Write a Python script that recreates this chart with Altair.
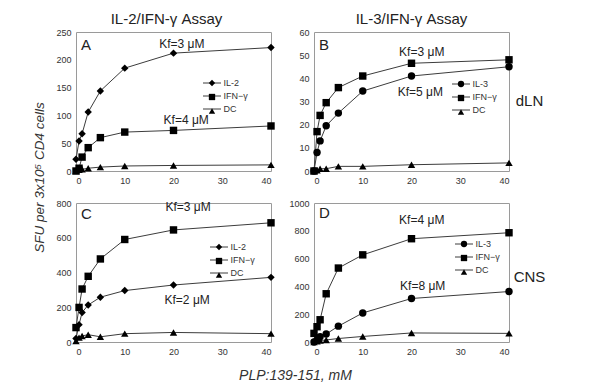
import altair as alt
import pandas as pd

FONT = "Liberation Sans"

# peptide concentrations (x)
conc = [0, 0.625, 1.25, 2.5, 5, 10, 20, 40]

# Panel A: IL-2/IFN-γ assay, dLN
a_names = ["IL-2", "IFN−γ", "DC"]
a_il2 = [21, 54, 67, 106, 144, 185, 212, 222]
a_ifng = [0, 5, 25, 42, 60, 70, 73, 81]
a_dc = [0, 2, 3, 5, 7, 9, 10, 11]

# Panel B: IL-3/IFN-γ assay, dLN
b_names = ["IL-3", "IFN−γ", "DC"]
b_il3 = [0, 8, 13, 19.5, 25, 34.5, 41, 45]
b_ifng = [0, 17, 24, 29.5, 36, 41, 46.5, 48]
b_dc = [0, 0.3, 1, 1, 2, 2, 2.7, 3.5]

# Panel C: IL-2/IFN-γ assay, CNS
c_names = ["IL-2", "IFN−γ", "DC"]
c_il2 = [20, 100, 170, 213, 258, 296, 328, 372]
c_ifng = [83, 199, 305, 378, 478, 590, 645, 686]
c_dc = [5, 25, 35, 42, 30, 48, 55, 48]

# Panel D: IL-3/IFN-γ assay, CNS
d_names = ["IL-3", "IFN−γ", "DC"]
d_il3 = [0, 15, 38, 57, 114, 209, 313, 363]
d_ifng = [62, 110, 160, 347, 532, 627, 743, 786]
d_dc = [0, 5, 10, 15, 25, 40, 65, 62]

# Kf annotations (text, x, y in data units)
a_kf_text = ["Kf=3 μM", "Kf=4 μM"]
a_kf_x = [21.7, 22.6]
a_kf_y = [229, 92]
b_kf_text = ["Kf=3 μM", "Kf=5 μM"]
b_kf_x = [22.1, 21.8]
b_kf_y = [51.4, 33.9]
c_kf_text = ["Kf=3 μM", "Kf=2 μM"]
c_kf_x = [23.0, 22.8]
c_kf_y = [777, 244]
d_kf_text = ["Kf=4 μM", "Kf=8 μM"]
d_kf_x = [22.1, 22.3]
d_kf_y = [878, 400]

SHAPES = {"IL-2": "diamond", "IL-3": "circle", "IFN−γ": "square", "DC": "triangle-up"}


def make_df(names, values):
    rows = []
    for name, vals in zip(names, values):
        for xv, yv in zip(conc, vals):
            rows.append({"conc": xv, "sfu": yv, "series": name, "series_m": name + " "})
    return pd.DataFrame(rows)


W, H = 195, 139


def panel(df, names, ymax, ystep, kf_text, kf_x, kf_y, letter, letter_y,
          leg_x, leg_y, title=None, title_dx=0, side=None, side_y=0,
          ytitle=False, xtitle=False):
    xs = alt.Scale(domain=[0, 40], nice=False)
    ys = alt.Scale(domain=[0, ymax], nice=False)
    common = dict(grid=False, ticks=False, domain=False, labelFontSize=9,
                  labelColor="#333", labelFont=FONT, format="d")
    if xtitle:
        xaxis = alt.Axis(values=[0, 10, 20, 30, 40], labelPadding=5,
                         title="PLP:139-151, mM", titleFont=FONT,
                         titleFontStyle="italic", titleFontWeight="normal",
                         titleFontSize=14, titleColor="#333",
                         titleX=219, titleY=33, titleAlign="center",
                         titleBaseline="middle", **common)
    else:
        xaxis = alt.Axis(values=[0, 10, 20, 30, 40], labelPadding=5,
                         title=None, **common)
    if ytitle:
        yaxis = alt.Axis(values=list(range(0, ymax + 1, ystep)), labelPadding=5,
                         title="SFU per 3x10⁵ CD4 cells", titleFont=FONT,
                         titleFontStyle="italic", titleFontWeight="normal",
                         titleFontSize=13.5, titleColor="#333",
                         titleX=-30, titleY=-26, titleAlign="center", **common)
    else:
        yaxis = alt.Axis(values=list(range(0, ymax + 1, ystep)), labelPadding=5,
                         title=None, **common)

    shapes = [SHAPES[n] for n in names]
    base = alt.Chart(df)
    line = base.mark_line(strokeWidth=1).encode(
        x=alt.X("conc:Q", scale=xs, axis=xaxis),
        y=alt.Y("sfu:Q", scale=ys, axis=yaxis),
        color=alt.Color("series:N",
                        scale=alt.Scale(domain=names, range=["#3c3c3c"] * 3),
                        legend=alt.Legend(orient="none", legendX=leg_x, legendY=leg_y,
                                          title=None, symbolType="M-1.8,0H1.8",
                                          symbolSize=100, symbolStrokeWidth=1,
                                          labelFontSize=9, labelFont=FONT,
                                          labelColor="#333", labelOffset=6,
                                          rowPadding=2, padding=0)),
        order="conc:Q",
    )
    pts = base.mark_point(filled=True, size=55, color="black", opacity=1).encode(
        x=alt.X("conc:Q", scale=xs),
        y=alt.Y("sfu:Q", scale=ys, axis=None),
        shape=alt.Shape("series_m:N",
                        scale=alt.Scale(domain=[n + " " for n in names], range=shapes),
                        legend=alt.Legend(orient="none", legendX=leg_x, legendY=leg_y,
                                          title=None, symbolSize=40,
                                          symbolFillColor="black",
                                          symbolStrokeWidth=0,
                                          labelFontSize=11, labelExpr="''",
                                          rowPadding=2, padding=0)),
    )
    kf = alt.Chart(pd.DataFrame({"x": kf_x, "y": kf_y, "t": kf_text})).mark_text(
        fontSize=12, font=FONT, color="#222"
    ).encode(
        x=alt.X("x:Q", scale=xs),
        y=alt.Y("y:Q", scale=ys, axis=None),
        text="t:N",
    )
    if side:
        side_axis = alt.Axis(orient="right", title=side, titleAngle=0, labels=False,
                             ticks=False, domain=False, grid=False, titleFontSize=15,
                             titleFont=FONT, titleFontWeight="normal",
                             titleColor="#222", titleX=20, titleY=side_y,
                             titleAlign="center", titleBaseline="middle")
    else:
        side_axis = None
    lab = alt.Chart(pd.DataFrame({"x": [1.0], "y": [letter_y], "t": [letter]})).mark_text(
        fontSize=15, font=FONT, align="left", color="#222"
    ).encode(
        x=alt.X("x:Q", scale=xs),
        y=alt.Y("y:Q", scale=ys, axis=side_axis),
        text="t:N",
    )
    ch = alt.layer(line, pts, kf, lab).resolve_axis(y="independent").properties(
        width=W, height=H)
    if title:
        ch = ch.properties(title=alt.Title(title, fontSize=15, font=FONT,
                                           fontWeight="normal", color="#222",
                                           offset=1, dx=title_dx))
    return ch


pA = panel(make_df(a_names, [a_il2, a_ifng, a_dc]), a_names, 250, 50,
           a_kf_text, a_kf_x, a_kf_y, "A", 227, 130.5, 45.5,
           title="IL-2/IFN-γ Assay", title_dx=-7)
pB = panel(make_df(b_names, [b_il3, b_ifng, b_dc]), b_names, 60, 10,
           b_kf_text, b_kf_x, b_kf_y, "B", 54.6, 141.5, 46.5,
           title="IL-3/IFN-γ Assay", side="dLN", side_y=68)
pC = panel(make_df(c_names, [c_il2, c_ifng, c_dc]), c_names, 800, 200,
           c_kf_text, c_kf_x, c_kf_y, "C", 739, 137.5, 38.5,
           ytitle=True, xtitle=True)
pD = panel(make_df(d_names, [d_il3, d_ifng, d_dc]), d_names, 1000, 200,
           d_kf_text, d_kf_x, d_kf_y, "D", 931, 144.5, 35.5,
           side="CNS", side_y=73)

chart = alt.concat(pA, pB, pC, pD, columns=2,
                   spacing={"row": 32, "column": 43}, bounds="flush").resolve_scale(
    x="independent", y="independent", color="independent", shape="independent"
).resolve_legend(color="independent", shape="independent").properties(
    padding={"left": 23, "top": 3, "right": 5, "bottom": 5}
).configure_view(stroke="#9a9a9a", strokeWidth=1)

chart.save("out.html", embed_options={"renderer": "svg", "actions": False})
